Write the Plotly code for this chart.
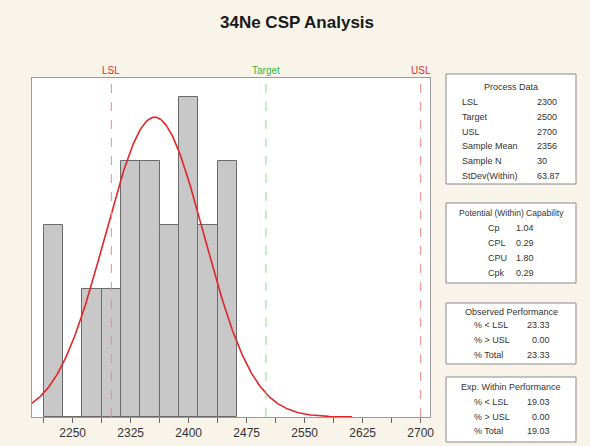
import numpy as np
import plotly.graph_objects as go

# ---------------- data ----------------
bin_centers = [2225, 2250, 2275, 2300, 2325, 2350, 2375, 2400, 2425, 2450]
bin_counts = [3, 0, 2, 2, 4, 4, 3, 5, 3, 4]
bin_width = 25

LSL, TARGET, USL = 2300, 2500, 2700
sample_mean = 2356
sample_n = 30
stdev_within = 63.87

tick_vals = [2212.5, 2250, 2287.5, 2325, 2362.5, 2400, 2437.5, 2475,
             2512.5, 2550, 2587.5, 2625, 2662.5, 2700]
tick_text = ["", "2250", "", "2325", "", "2400", "", "2475",
             "", "2550", "", "2625", "", "2700"]

process_labels = ["LSL", "Target", "USL", "Sample Mean", "Sample N", "StDev(Within)"]
process_values = ["2300", "2500", "2700", "2356", "30", "63.87"]
potential_labels = ["Cp", "CPL", "CPU", "Cpk"]
potential_values = ["1.04", "0.29", "1.80", "0.29"]
observed_labels = ["% < LSL", "% > USL", "% Total"]
observed_values = ["23.33", "0.00", "23.33"]
expected_labels = ["% < LSL", "% > USL", "% Total"]
expected_values = ["19.03", "0.00", "19.03"]

# ---------------- geometry ----------------
W, H = 590, 446
PL, PR, PT, PB = 32, 430, 78, 417


def px(x):
    return (x - PL) / (PR - PL)


def py(y):
    return (PB - y) / (PB - PT)


# fitted normal curve (scaled to counts)
xc = np.linspace(2197, sample_mean + 4 * stdev_within, 300)
yc = sample_n * bin_width * np.exp(-0.5 * ((xc - sample_mean) / stdev_within) ** 2) / (
    stdev_within * np.sqrt(2 * np.pi))

fig = go.Figure()
fig.add_trace(go.Bar(
    x=bin_centers, y=bin_counts, width=bin_width,
    marker=dict(color="#c8c8c8", line=dict(color="#6a6a6a", width=1)),
    showlegend=False, hoverinfo="x+y"))
fig.add_trace(go.Scatter(
    x=xc, y=yc, mode="lines", line=dict(color="#e3242b", width=1.6),
    showlegend=False, hoverinfo="skip"))

shapes = []
annotations = []
FONT = "Liberation Sans"

# spec lines
for val, col, lab, tcol in [(LSL, "#f08a8a", "LSL", "#e03030"),
                            (TARGET, "#8fd68f", "Target", "#3cb43c"),
                            (USL, "#f08a8a", "USL", "#e03030")]:
    shapes.append(dict(type="line", xref="x", yref="paper", x0=val, x1=val, y0=0, y1=1,
                       line=dict(color=col, width=1, dash="dash")))
    annotations.append(dict(x=val, xref="x", y=py(70.5), yref="paper", text=lab,
                            showarrow=False, xanchor="center", yanchor="middle",
                            font=dict(family=FONT, size=10, color=tcol)))


def box(x0, y0, x1, y1):
    shapes.append(dict(type="rect", xref="paper", yref="paper",
                       x0=px(x0), x1=px(x1), y0=py(y1), y1=py(y0),
                       fillcolor="white", line=dict(color="#8a8a8a", width=1)))


def txt(x, y, s, anchor="left", size=9):
    annotations.append(dict(x=px(x), xref="paper", y=py(y), yref="paper", text=s,
                            showarrow=False, xanchor=anchor, yanchor="middle",
                            font=dict(family=FONT, size=size, color="#333333")))


# Process Data
box(446, 74, 576, 184)
txt(511, 87, "Process Data", "center")
for i, (l, v) in enumerate(zip(process_labels, process_values)):
    y = 102 + i * 14.8
    txt(460, y, l)
    txt(535, y, v)

# Potential (Within) Capability
box(446, 203, 576, 283)
txt(511, 213, "Potential (Within) Capability", "center", 8.5)
for i, (l, v) in enumerate(zip(potential_labels, potential_values)):
    y = 228 + i * 15
    txt(486, y, l)
    txt(514, y, v)

# Observed Performance
box(446, 303, 576, 364)
txt(511, 312, "Observed Performance", "center")
for i, (l, v) in enumerate(zip(observed_labels, observed_values)):
    y = 325 + i * 15
    txt(472, y, l)
    txt(552, y, v, "right")

# Exp. Within Performance
box(446, 377, 576, 442)
txt(511, 387, "Exp. Within Performance", "center")
for i, (l, v) in enumerate(zip(expected_labels, expected_values)):
    y = 402 + i * 14.5
    txt(472, y, l)
    txt(552, y, v, "right")

fig.update_layout(
    width=W, height=H,
    margin=dict(l=PL, r=W - PR, t=PT, b=H - PB, pad=0, autoexpand=False),
    paper_bgcolor="#f8f4ea",
    plot_bgcolor="white",
    bargap=0,
    title=dict(text="<b>34Ne CSP Analysis</b>", x=297 / W, xanchor="center",
               y=1 - 22 / H, yanchor="middle",
               font=dict(family=FONT, size=17, color="#1a1a1a")),
    xaxis=dict(range=[2197.4, 2712.1], tickmode="array", tickvals=tick_vals,
               ticktext=tick_text, ticks="outside", ticklen=5, tickcolor="#666666",
               showgrid=False, zeroline=False, showline=True, linecolor="#9a9a9a",
               linewidth=1, mirror=True, automargin=False,
               tickfont=dict(family=FONT, size=12, color="#333333")),
    yaxis=dict(range=[0, 5.297], showticklabels=False, ticks="", showgrid=False,
               zeroline=False, showline=True, linecolor="#9a9a9a", linewidth=1,
               mirror=True, automargin=False),
    shapes=shapes,
    annotations=annotations,
)

fig.write_html("out.html", config={"displayModeBar": False},
               post_script="document.body.style.margin='0';document.body.style.overflow='hidden';")
